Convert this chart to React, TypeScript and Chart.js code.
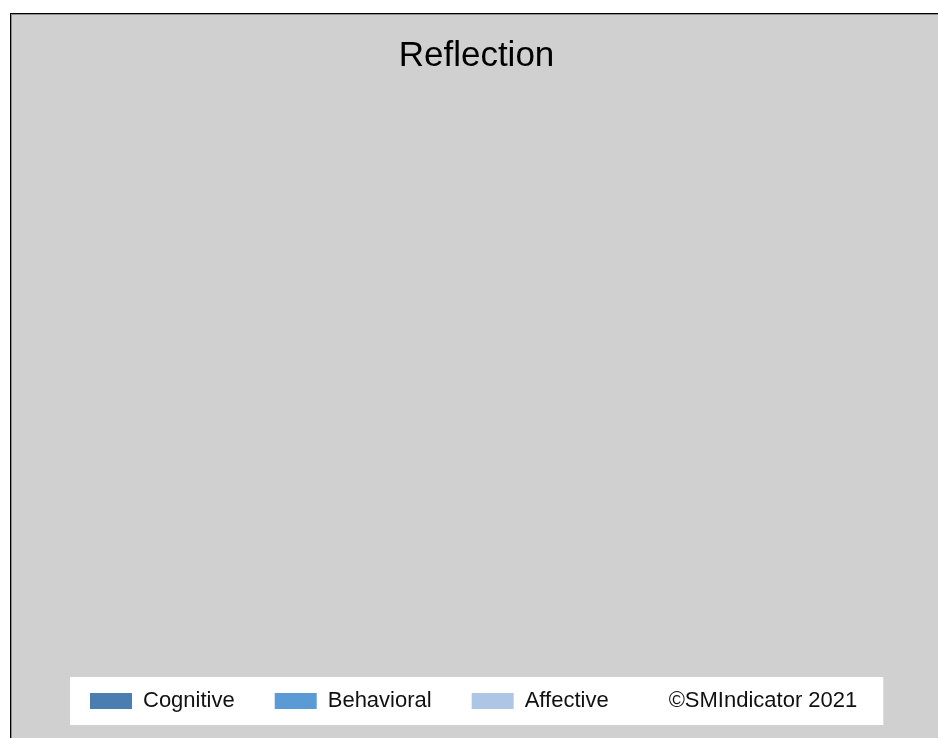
import { useEffect, useRef } from "react";
import { Chart, registerables } from "chart.js";

Chart.register(...registerables);

const titleText = "Reflection";
const categories: string[] = [];
const seriesNames = ["Cognitive", "Behavioral", "Affective"];
const cognitiveValues: number[] = [];
const behavioralValues: number[] = [];
const affectiveValues: number[] = [];
const seriesColors = ["#4a7eb0", "#5b9bd5", "#adc6e5"];
const copyrightText = "©SMIndicator 2021";

const FONT = "'Liberation Sans', Arial, sans-serif";

const legendPanel = {
  id: "legendPanel",
  beforeDraw(chart: any) {
    const boxes = chart.legend?.legendHitBoxes;
    if (!boxes || !boxes.length) return;
    const ctx = chart.ctx;
    ctx.save();
    ctx.font = `22px ${FONT}`;
    const last = boxes[boxes.length - 1];
    const textX = last.left + last.width + 60;
    const w = ctx.measureText(copyrightText).width;
    const cy = boxes[0].top + boxes[0].height / 2;
    const left = boxes[0].left - 20;
    const right = textX + w + 26;
    ctx.fillStyle = "#ffffff";
    ctx.fillRect(left, cy - 24, right - left, 48);
    ctx.fillStyle = "#111111";
    ctx.textBaseline = "middle";
    ctx.textAlign = "left";
    ctx.fillText(copyrightText, textX, cy);
    ctx.restore();
  },
};

export default function App() {
  const ref = useRef<HTMLCanvasElement | null>(null);
  useEffect(() => {
    if (!ref.current) return;
    const seriesValues = [cognitiveValues, behavioralValues, affectiveValues];
    const chart = new Chart(ref.current, {
      type: "bar",
      data: {
        labels: categories,
        datasets: seriesNames.map((name, i) => ({
          label: name,
          data: seriesValues[i],
          backgroundColor: seriesColors[i],
          borderColor: seriesColors[i],
          borderWidth: 0,
        })),
      },
      options: {
        animation: false,
        responsive: false,
        devicePixelRatio: 1,
        layout: { padding: { left: 38, right: 38, top: 0, bottom: 23 } },
        scales: {
          x: { display: false, stacked: true },
          y: { display: false, stacked: true },
        },
        plugins: {
          title: {
            display: true,
            text: titleText,
            color: "#000000",
            font: { family: FONT, size: 35, weight: "normal" },
            padding: { top: 20, bottom: 10 },
          },
          legend: {
            display: true,
            position: "bottom",
            align: "start",
            onClick: () => {},
            labels: {
              boxWidth: 42,
              boxHeight: 16,
              padding: 40,
              color: "#111111",
              font: { family: FONT, size: 22 },
            },
          },
          tooltip: { enabled: false },
        },
      },
      plugins: [legendPanel],
    });
    return () => chart.destroy();
  }, []);

  return (
    <div
      style={{
        position: "fixed",
        left: 0,
        top: 0,
        width: 938,
        height: 738,
        overflow: "hidden",
        background: "#ffffff",
      }}
    >
      <div
        style={{
          position: "absolute",
          left: 10,
          top: 13,
          width: 931,
          height: 740,
          boxSizing: "border-box",
          background: "#d0d0d0",
          borderLeft: "1px solid #000000",
          borderTop: "1px solid #000000",
          boxShadow: "inset 1px 1px 0 #8c8c8c",
        }}
      >
        <canvas
          ref={ref}
          width={929}
          height={730}
          style={{ display: "block", width: 929, height: 730, marginLeft: 1, marginTop: 1 }}
        />
      </div>
    </div>
  );
}
